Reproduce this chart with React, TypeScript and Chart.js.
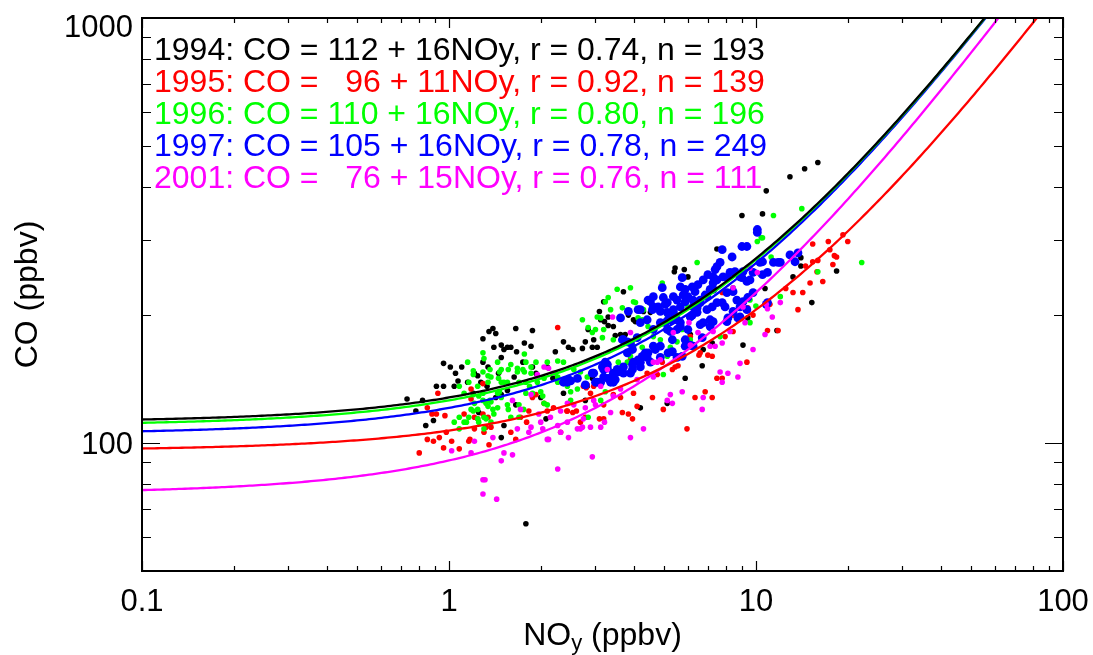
import React, { useEffect, useRef } from "react";
import { Chart, registerables } from "chart.js";

Chart.register(...registerables);

// ---- Fit parameters and legend data ----
const years = ["1994", "1995", "1996", "1997", "2001"];
const intercepts = [112, 96, 110, 105, 76];
const slopes = [16, 11, 16, 16, 15];
const rValues = ["0.74", "0.92", "0.80", "0.78", "0.76"];
const nValues = [193, 139, 196, 249, 111];
const colors = ["#000000", "#ff0000", "#00ff00", "#0000ff", "#ff00ff"];
const pointRadii = [2.8, 2.8, 2.8, 4.4, 2.8];

// ---- Axis ----
const xRange = [0.1, 100];
const yRange = [50, 1000];
const xTickLabels = [0.1, 1, 10, 100];
const yTickLabels = [100, 1000];

// ---- Observations: [NOy (ppbv), CO (ppbv)] ----
const obs1994 = [
  [0.73,127],[0.82,126],[0.91,136],[0.96,154],[1.01,151],[1.10,151],[1.05,146],[1.15,139],[1.07,140],[1.21,146],[1.24,144],[1.29,176],[1.34,151],[1.35,183],[1.39,186],[1.42,181],[1.40,168],[1.48,170],[1.51,166],[1.55,168],[1.48,159],[1.59,168],[1.65,186],[1.66,164],[1.74,155],[1.76,172],[1.85,169],[1.87,184],[1.87,151],[1.92,146],[2.09,151],[2.18,142],[2.22,164],[2.36,173],[2.36,131],[2.45,168],[2.53,166],[2.72,167],[2.78,173],[2.84,185],[2.93,168],[3.09,204],[3.12,195],[3.19,215],[3.21,193],[3.30,189],[3.48,179],[3.70,227],[3.84,200],[3.99,195],[4.30,204],[5.45,258],[5.42,253],[5.88,142],[6.11,180],[6.68,152],[6.73,166],[9.07,170],[9.40,197],[10.7,231],[13.2,246],[15.2,214],[1.78,64.6],[0.78,119],[1.48,103],[1.51,110],[1.65,123],[1.25,118],[0.89,113],[0.84,110],[2.07,114],[2.78,126],[5.14,124],[4.20,121],[7.20,172],[1.48,130],[1.55,133],[1.42,128],[1.33,136],[1.27,139],[1.20,131],[1.04,136],[0.96,136],[1.45,146],[1.29,155],[1.63,143],[1.89,130],[1.99,128],[2.82,136],[2.93,142],[3.04,168],[3.30,198],[3.43,188],[2.96,175],[3.62,180],[15.9,457],[14.4,442],[12.9,423],[10.8,392],[9.0,343],[10.5,346],[7.46,286],[14.0,273],[14.0,261],[18.3,254],[11.7,184],[5.84,256],[6.0,246],[4.53,203],[4.05,193],[3.75,180]
];
const obs1995 = [
  [0.92,131],[0.80,94.8],[0.85,102],[0.89,101],[0.93,103],[0.96,97.4],[1.02,101],[1.08,96.9],[1.16,101],[1.17,102],[1.21,108],[1.30,106],[1.35,99.1],[1.29,117],[1.37,109],[0.98,106],[0.88,117],[0.91,117],[0.97,116],[0.85,121],[1.12,117],[1.21,115],[1.24,114],[1.32,109],[1.34,115],[1.59,106],[1.65,102],[1.71,115],[1.79,112],[1.82,119],[1.87,128],[1.92,130],[2.04,124],[2.09,119],[2.19,121],[2.26,187],[2.31,106],[2.43,119],[2.53,118],[2.68,112],[2.74,136],[2.82,137],[2.89,131],[3.09,114],[3.19,114],[3.43,130],[3.62,128],[3.67,118],[3.84,117],[3.96,114],[3.90,157],[3.99,131],[4.10,122],[4.42,146],[4.60,128],[4.99,120],[5.34,149],[5.45,151],[5.96,108],[6.11,178],[6.33,128],[6.58,163],[6.83,132],[7.20,160],[7.20,128],[7.46,142],[7.76,142],[7.93,178],[8.42,183],[9.34,155],[10.9,184],[11.8,184],[12.5,231],[13.2,226],[13.7,206],[14.2,226],[15.0,238],[15.3,267],[15.8,253],[16.5,240],[17.4,285],[17.8,263],[18.3,274],[19.2,309],[17.2,298],[19.9,298],[15.3,294],[15.9,269],[14.5,261],[18.0,276],[7.76,226],[9.40,208],[8.42,200],[9.78,200],[11.1,212],[4.77,145],[4.95,155],[5.57,152],[6.52,161],[6.97,161],[2.80,135],[2.96,136],[2.78,115],[2.60,119],[2.42,119],[3.19,123],[1.18,134],[1.29,138],[1.18,127]
];
const obs1996 = [
  [1.15,155],[1.29,163],[1.30,158],[1.20,145],[1.34,144],[1.36,149],[1.48,149],[1.44,155],[1.24,136],[1.29,131],[1.34,139],[1.37,143],[1.45,142],[1.48,139],[1.55,139],[1.56,149],[1.59,153],[1.67,147],[1.74,149],[1.78,155],[1.85,146],[1.92,155],[1.99,132],[2.02,129],[2.04,142],[2.26,143],[2.36,155],[2.36,139],[2.43,136],[2.49,132],[2.55,149],[2.68,147],[2.72,195],[2.82,143],[2.84,187],[2.93,182],[3.00,185],[3.04,198],[3.12,197],[3.16,177],[3.19,185],[3.23,215],[3.30,220],[3.36,206],[3.43,175],[3.53,230],[3.67,208],[3.90,232],[3.99,215],[4.05,214],[4.13,197],[4.26,195],[4.30,206],[4.45,188],[4.63,185],[4.88,175],[4.95,238],[5.14,200],[5.38,200],[5.67,193],[5.75,185],[5.88,227],[6.0,209],[6.11,175],[6.43,266],[7.09,190],[7.64,178],[8.42,232],[9.56,217],[10.1,298],[10.5,304],[12.0,221],[15.9,253],[9.56,192],[1.04,112],[1.14,112],[1.20,119],[1.25,112],[1.30,115],[1.37,112],[1.44,121],[1.48,128],[1.55,123],[1.59,115],[1.69,115],[1.78,131],[2.09,123],[1.08,115],[1.21,124],[1.25,129],[1.36,126],[1.39,120],[1.44,131],[2.49,126],[2.62,134],[2.84,115],[3.12,126],[3.23,132],[3.30,143],[3.43,146],[3.56,155],[3.67,151],[3.81,155],[3.90,160],[3.99,169],[4.26,168],[4.42,160],[4.63,178],[4.99,145],[5.14,160],[5.26,168],[5.53,173],[1.20,148],[1.29,147],[1.46,147],[1.51,139],[1.67,150],[1.76,162],[1.76,147],[1.85,151],[1.69,139],[1.78,139],[1.83,136],[1.87,131],[1.94,139],[2.04,124],[2.09,155],[2.26,156],[2.22,146],[2.26,139],[1.46,132],[1.37,125],[1.32,124],[1.29,126],[1.16,139],[1.08,136],[1.12,131],[1.20,130],[1.24,120],[1.34,122],[1.40,117],[1.32,114],[1.30,108],[1.24,114],[1.16,115],[1.12,112],[1.08,108],[1.18,120],[1.75,120],[1.56,120],[1.69,123],[14.1,356],[11.4,343],[10.4,304],[11.2,274],[10.3,250],[22.1,266],[9.99,210]
];
const obs1997 = [
  [2.36,139],[2.43,139],[2.49,140],[2.62,142],[2.78,137],[2.93,146],[3.00,139],[3.12,139],[3.19,143],[3.16,151],[3.23,155],[3.28,150],[3.30,142],[3.36,141],[3.43,146],[3.53,149],[3.67,175],[3.62,197],[3.70,175],[3.81,173],[3.90,172],[3.84,204],[3.96,166],[3.99,155],[4.10,177],[4.13,206],[4.20,155],[4.26,160],[4.36,163],[4.42,159],[4.45,217],[4.53,215],[4.60,206],[4.63,169],[4.63,221],[4.80,209],[4.88,204],[4.95,232],[4.99,220],[5.06,212],[5.06,192],[5.14,203],[5.17,195],[5.26,183],[5.34,175],[5.38,203],[5.53,195],[5.53,217],[5.67,188],[5.75,245],[5.79,223],[5.88,215],[5.88,175],[6.0,221],[6.11,170],[6.20,233],[6.24,217],[6.33,227],[6.43,208],[6.47,236],[6.58,214],[6.68,177],[6.73,242],[6.83,223],[6.92,206],[6.97,249],[7.09,230],[7.20,209],[7.25,238],[7.36,256],[7.46,242],[7.64,266],[7.76,285],[7.81,246],[7.93,209],[8.04,226],[8.23,252],[8.36,274],[8.42,227],[8.66,217],[8.87,246],[9.0,290],[9.07,253],[9.34,290],[9.40,220],[9.56,242],[9.78,226],[10.1,313],[10.3,266],[10.5,249],[10.5,267],[10.9,252],[11.4,266],[12.0,266],[12.9,277],[13.4,267],[13.7,280],[9.07,215],[8.87,209],[9.34,206],[8.73,197],[10.8,212],[7.25,193],[7.09,188],[8.10,197],[8.42,204],[6.20,200],[6.58,190],[6.0,185],[5.75,160],[5.53,185],[5.38,221],[5.67,233],[5.88,230],[7.25,246],[7.46,260],[4.20,206],[4.63,209],[5.14,214],[5.38,206],[5.67,209],[6.24,209],[6.58,217],[6.92,221],[7.25,230],[7.46,214],[4.20,192],[4.42,195],[4.88,192],[5.26,195],[5.67,192],[6.11,198],[6.43,203],[6.73,192],[7.09,195],[5.14,185],[4.63,185],[2.45,141],[2.96,146],[3.04,139],[3.19,149],[3.28,153],[3.48,141],[3.56,147],[3.70,151],[3.81,163],[3.90,146],[3.96,153],[4.13,157],[4.20,151],[4.45,163],[4.53,155],[4.70,166],[4.88,169],[4.88,159],[5.17,163],[5.34,164],[5.53,159],[5.88,169],[6.24,169],[3.70,146],[3.96,149],[3.36,139],[3.43,139],[10.1,318],[11.8,266],[9.78,252],[8.54,253],[8.04,245],[9.0,245],[9.34,240],[10.9,214],[7.76,214],[8.04,193],[8.87,198]
];
const obs2001 = [
  [1.29,82],[1.31,82],[1.29,75.9],[1.43,73.8],[1.48,90.8],[1.61,93.8],[1.18,94.8],[1.21,101],[1.02,95.9],[1.39,103],[1.67,108],[1.82,106],[1.99,112],[2.02,108],[1.96,117],[2.11,102],[2.26,86.9],[2.31,106],[2.45,103],[2.62,108],[2.72,109],[2.74,114],[2.93,92.8],[2.89,109],[2.96,126],[3.00,123],[3.12,109],[3.21,112],[3.36,118],[3.43,129],[3.62,134],[3.90,103],[4.10,141],[4.30,108],[4.63,155],[4.88,157],[5.14,126],[5.26,130],[5.34,124],[5.75,132],[6.68,120],[6.73,128],[7.36,169],[7.64,147],[7.76,139],[8.10,146],[8.73,143],[8.87,154],[9.78,166],[10.7,180],[10.8,212],[11.3,198],[12.0,214],[7.76,172],[8.42,232],[9.56,258],[3.41,198],[2.04,151],[2.11,150],[1.94,143],[1.85,130],[1.61,126],[1.71,120],[2.14,115],[2.31,119],[2.43,124],[2.55,123],[2.78,121],[2.43,112],[2.68,108],[2.26,110],[3.12,136],[3.28,149],[4.63,143],[4.77,155],[5.38,182],[6.11,170],[6.47,182],[7.09,169],[7.25,183],[9.07,209],[10.1,252],[9.21,192],[8.23,183],[10.9,207],[6.05,192],[3.90,182],[1.51,94.8],[2.09,102],[1.85,109],[2.18,146],[1.94,145]
];
const observations = [obs1994, obs1995, obs1996, obs1997, obs2001];

const FONT = "'Liberation Sans', Arial, Helvetica, sans-serif";

function fitCurve(a: number, b: number) {
  const pts: { x: number; y: number }[] = [];
  const n = 300;
  const lo = Math.log10(xRange[0]);
  const hi = Math.log10(xRange[1]);
  for (let i = 0; i <= n; i++) {
    const x = Math.pow(10, lo + ((hi - lo) * i) / n);
    pts.push({ x, y: a + b * x });
  }
  return pts;
}

function legendLine(i: number) {
  const a = String(intercepts[i]);
  const pad = a.length < 3 ? "   " : " ";
  return `${years[i]}: CO =${pad}${a} + ${slopes[i]}NOy, r = ${rValues[i]}, n = ${nValues[i]}`;
}

const framePlugin = {
  id: "framePlugin",
  afterDraw(chart: any) {
    const { ctx, chartArea: a, scales } = chart;
    const xs = scales.x;
    const ys = scales.y;
    ctx.save();
    ctx.strokeStyle = "#000";
    ctx.fillStyle = "#000";

    // tick marks (inward, all four sides)
    ctx.lineWidth = 1.2;
    ctx.beginPath();
    for (const d of [0.1, 1, 10, 100]) {
      for (let m = 1; m <= 9; m++) {
        const v = d * m;
        if (v < xRange[0] - 1e-9 || v > xRange[1] + 1e-9) continue;
        const px = Math.round(xs.getPixelForValue(v)) + 0.5;
        const len = m === 1 ? 10 : 5;
        ctx.moveTo(px, a.bottom);
        ctx.lineTo(px, a.bottom - len);
        ctx.moveTo(px, a.top);
        ctx.lineTo(px, a.top + len);
      }
    }
    for (const d of [10, 100, 1000]) {
      for (let m = 1; m <= 9; m++) {
        const v = d * m;
        if (v < yRange[0] - 1e-9 || v > yRange[1] + 1e-9) continue;
        const py = Math.round(ys.getPixelForValue(v)) + 0.5;
        const len = m === 1 ? 18 : 9;
        ctx.moveTo(a.left, py);
        ctx.lineTo(a.left + len, py);
        ctx.moveTo(a.right, py);
        ctx.lineTo(a.right - len, py);
      }
    }
    ctx.stroke();

    // frame
    ctx.lineWidth = 2;
    ctx.strokeRect(a.left, a.top, a.right - a.left, a.bottom - a.top);

    // tick labels
    ctx.font = `31px ${FONT}`;
    ctx.textBaseline = "alphabetic";
    ctx.textAlign = "center";
    for (const v of xTickLabels) {
      const px = xs.getPixelForValue(v);
      ctx.fillText(String(v), px, a.bottom + 40);
    }
    ctx.textAlign = "right";
    for (const v of yTickLabels) {
      const py = Math.max(ys.getPixelForValue(v), a.top + 8);
      ctx.fillText(String(v), a.left - 9, py + 11);
    }

    // axis titles
    ctx.font = `32px ${FONT}`;
    const cx = (a.left + a.right) / 2;
    const wNO = ctx.measureText("NO").width;
    const wRest = ctx.measureText(" (ppbv)").width;
    ctx.font = `22px ${FONT}`;
    const wSub = ctx.measureText("y").width;
    const total = wNO + wSub + wRest;
    const x0 = cx - total / 2;
    const base = a.bottom + 74;
    ctx.textAlign = "left";
    ctx.font = `32px ${FONT}`;
    ctx.fillText("NO", x0, base);
    ctx.font = `22px ${FONT}`;
    ctx.fillText("y", x0 + wNO, base + 5);
    ctx.font = `32px ${FONT}`;
    ctx.fillText(" (ppbv)", x0 + wNO + wSub, base);

    ctx.save();
    ctx.translate(37, (a.top + a.bottom) / 2);
    ctx.rotate(-Math.PI / 2);
    ctx.textAlign = "center";
    ctx.fillText("CO (ppbv)", 0, 0);
    ctx.restore();

    // legend text
    ctx.font = `32px ${FONT}`;
    ctx.textAlign = "left";
    for (let i = 0; i < years.length; i++) {
      ctx.fillStyle = colors[i];
      ctx.fillText(legendLine(i), a.left + 12, a.top + 42 + i * 32.1);
    }
    ctx.restore();
  },
};

export default function App() {
  const ref = useRef<HTMLCanvasElement | null>(null);
  useEffect(() => {
    if (!ref.current) return;
    const lineSets = years.map((y, i) => ({
      label: `fit ${y}`,
      data: fitCurve(intercepts[i], slopes[i]),
      showLine: true,
      borderColor: colors[i],
      backgroundColor: colors[i],
      borderWidth: 2.3,
      pointRadius: 0,
      tension: 0,
    }));
    const order = [4, 3, 2, 1, 0];
    const pointSets = order.map((i) => ({
      label: years[i],
      data: observations[i].map((p) => ({ x: p[0], y: p[1] })),
      showLine: false,
      pointRadius: pointRadii[i],
      pointBorderWidth: 0,
      pointBackgroundColor: colors[i],
      pointBorderColor: colors[i],
      backgroundColor: colors[i],
      borderColor: colors[i],
    }));
    const chart = new Chart(ref.current, {
      type: "scatter",
      data: { datasets: [...lineSets, ...pointSets] as any },
      options: {
        animation: false,
        responsive: false,
        devicePixelRatio: 1,
        events: [],
        layout: { padding: { left: 142, right: 30, top: 18, bottom: 84 } },
        plugins: { legend: { display: false }, tooltip: { enabled: false } },
        scales: {
          x: { type: "logarithmic", min: xRange[0], max: xRange[1], display: false },
          y: { type: "logarithmic", min: yRange[0], max: yRange[1], display: false },
        },
      } as any,
      plugins: [framePlugin],
    });
    return () => chart.destroy();
  }, []);
  return (
    <div style={{ position: "fixed", left: 0, top: 0, width: 1093, height: 655, background: "#fff" }}>
      <canvas ref={ref} width={1093} height={655} style={{ display: "block" }} />
    </div>
  );
}
